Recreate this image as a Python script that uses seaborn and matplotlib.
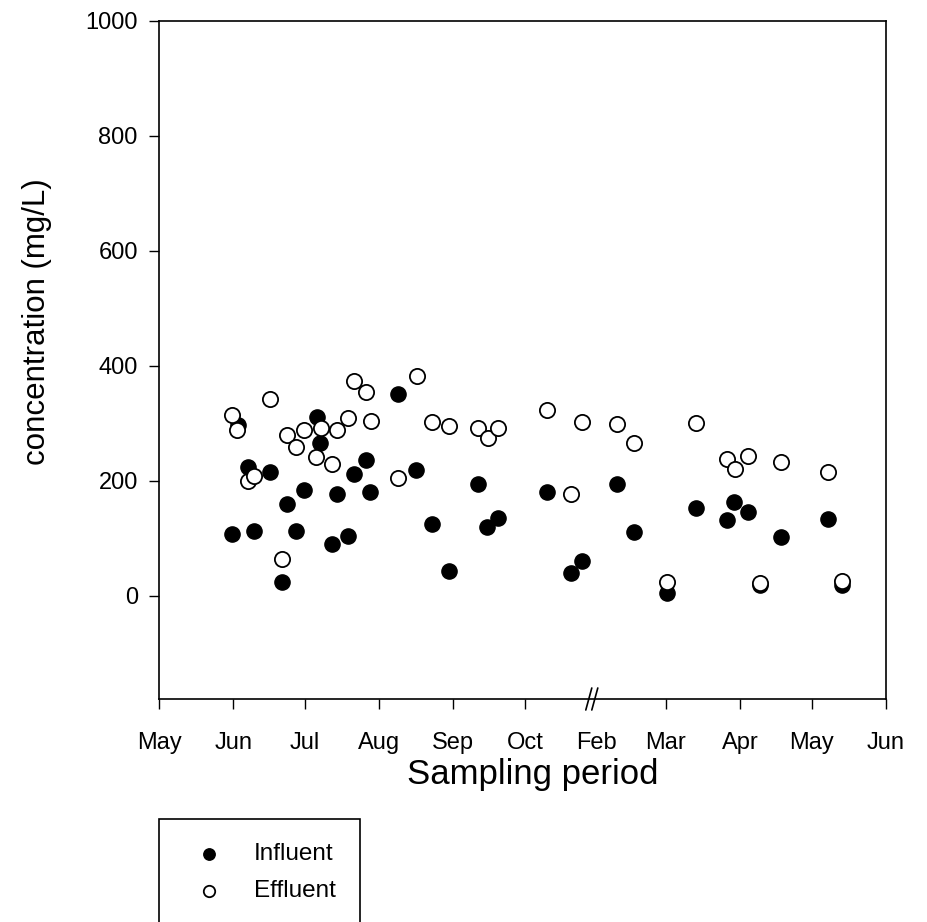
import matplotlib
matplotlib.use("Agg")
import matplotlib.pyplot as plt
import seaborn as sns
import pandas as pd

# sampling day (plotted day axis, break between Oct and Feb)
days = [30.3, 33.0, 37.2, 39.7, 46.3, 51.2, 53.3, 57.2, 60.7, 65.8, 67.4, 72.3,
        74.2, 79.1, 81.5, 86.5, 88.3, 100.0, 107.5, 114.1, 121.3, 133.5, 137.2,
        141.8, 162.1, 172.1, 177.0, 191.4, 198.6, 212.3, 224.6, 237.4, 240.7,
        246.4, 251.6, 260.1, 279.9, 285.9]
influent = [107, 297, 223, 113, 215, 24, 159, 113, 184, 310, 266, 90,
            177, 103, 211, 236, 180, 350, 218, 124, 43, 194, 120,
            135, 181, 40, 60, 194, 110, 4, 152, 131, 162,
            145, 18, 102, 134, 18]
# effluent x positions differ slightly for a few dates
days_eff = [30.3, 32.4, 37.2, 39.7, 46.3, 51.2, 53.3, 57.2, 60.7, 65.6, 67.7, 72.1,
            74.2, 79.1, 81.5, 86.5, 88.5, 100.0, 107.7, 114.0, 121.3, 133.5, 137.4,
            141.8, 162.1, 172.1, 177.0, 191.4, 198.6, 212.3, 224.6, 237.4, 240.9,
            246.4, 251.6, 260.1, 279.9, 285.9]
effluent = [314, 288, 200, 208, 342, 63, 280, 259, 288, 242, 291, 229,
            288, 309, 374, 354, 303, 204, 382, 302, 295, 291, 274,
            291, 323, 176, 302, 299, 266, 24, 301, 237, 220,
            243, 22, 232, 215, 25]

tick_days = [0, 31, 61, 92, 123, 153, 183, 212, 243, 273, 304]
tick_labels = ["May", "Jun", "Jul", "Aug", "Sep", "Oct", "Feb", "Mar", "Apr", "May", "Jun"]
y_ticks = [0, 200, 400, 600, 800, 1000]
break_day = 181

df_in = pd.DataFrame({"day": days, "conc": influent})
df_ef = pd.DataFrame({"day": days_eff, "conc": effluent})

sns.set_theme(style="ticks")
plt.rcParams["font.family"] = ["Liberation Sans", "DejaVu Sans"]
plt.rcParams["text.color"] = "black"

fig = plt.figure(figsize=(9.28, 9.22), dpi=100)
ax = fig.add_axes([159.3 / 928, 1 - 699 / 922, 726.4 / 928, 678 / 922])

sns.scatterplot(data=df_in, x="day", y="conc", ax=ax, color="black",
                edgecolor="black", s=120, linewidth=1, marker="o",
                label="Influent", zorder=3)
sns.scatterplot(data=df_ef, x="day", y="conc", ax=ax, facecolor="white",
                edgecolor="black", s=120, linewidth=1.3, marker="o",
                label="Effluent", zorder=4)

ax.set_xlim(0, 304)
ax.set_ylim(-180, 1000)
ax.set_xticks(tick_days)
ax.set_xticklabels(tick_labels)
ax.set_yticks(y_ticks)
ax.tick_params(axis="both", direction="out", length=7.5, width=1,
               labelsize=17, color="black", labelcolor="black")
ax.tick_params(axis="x", pad=16)
ax.tick_params(axis="y", pad=8)
ax.xaxis.get_major_ticks()[6].tick1line.set_visible(False)
for sp in ax.spines.values():
    sp.set_color("black")
    sp.set_linewidth(1.2)

ax.set_xlabel("Sampling period", fontsize=25, color="black")
ax.set_ylabel("concentration (mg/L)", fontsize=22.5, color="black")
ax.xaxis.set_label_coords((533 - 159.3) / 726.4, -0.087)
ax.yaxis.set_label_coords(-0.148, 0.556)

# axis break marks
xb = break_day / 304
for off in (-3.0, 3.0):
    ax.plot([xb + (off - 3) / 726.4, xb + (off + 3) / 726.4],
            [-11 / 678, 11 / 678], color="black", lw=1.2,
            transform=ax.transAxes, clip_on=False, zorder=5)

ax.get_legend().remove()
h, l = ax.get_legend_handles_labels()
leg = fig.legend(h, l, loc="upper left",
                 bbox_to_anchor=(159 / 928, 1 - 819 / 922),
                 fontsize=17.5, frameon=True, fancybox=False, framealpha=1,
                 edgecolor="black", borderpad=1.0, handlelength=2.1,
                 handletextpad=0.8, labelspacing=0.62, markerscale=0.75,
                 borderaxespad=0, labelcolor="black")
leg.get_frame().set_linewidth(1.2)

fig.savefig("out.png", dpi=100)
